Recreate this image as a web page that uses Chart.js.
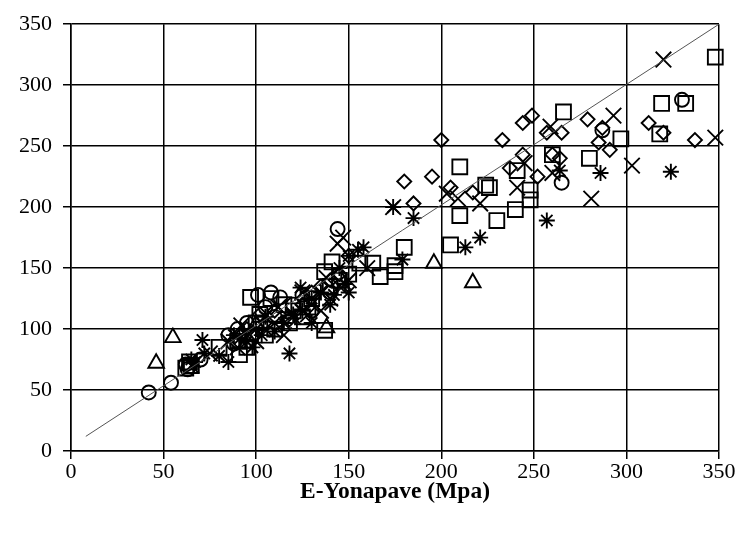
<!DOCTYPE html>
<html>
<head>
<meta charset="utf-8">
<script src="https://cdn.jsdelivr.net/npm/chart.js@4/dist/chart.umd.min.js"></script>
<style>
  html, body { margin: 0; padding: 0; background: #fff; }
  #wrap { width: 736px; height: 534px; }
</style>
</head>
<body>
<div id="wrap"><canvas id="scatterChart" width="736" height="534"></canvas></div>
<script>
// axis ticks
const tickValues = [0, 50, 100, 150, 200, 250, 300, 350];

// line of equality (drawn end points)
const fitX = [8, 350];
const fitY = [12, 350];

// diamonds
const diamondX = [200, 233, 244, 249, 257, 265, 180, 195, 185, 217, 244, 260, 237, 252, 205, 279, 312, 320, 337, 285, 291, 287, 264, 110, 125, 140, 95, 130, 150, 118, 102, 135, 145, 92];
const diamondY = [255, 255, 269, 275, 261, 261, 221, 225, 203, 212, 243, 243, 232, 225, 216, 272, 269, 261, 255, 253, 247, 265, 240, 115, 120, 140, 100, 130, 160, 108, 112, 135, 145, 95];

// squares
const squareX = [348, 319, 332, 318, 297, 280, 266, 210, 224, 210, 205, 230, 240, 248, 248, 241, 180, 175, 175, 167, 260, 226, 141, 137, 156, 163, 97, 137, 91, 90, 100, 110, 120, 130, 95, 105, 140, 145, 125, 80, 65, 115, 62, 64, 102, 128, 150, 108, 118];
const squareY = [323, 285, 285, 260, 256, 240, 278, 233, 218, 193, 169, 189, 198, 206, 214, 230, 167, 152, 147, 143, 243, 216, 155, 147, 154, 154, 126, 99, 79, 90, 105, 100, 115, 125, 85, 95, 135, 140, 110, 85, 70, 120, 68, 73, 112, 118, 145, 125, 105];

// triangles
const triangleX = [55, 46, 138, 196, 217, 100];
const triangleY = [93, 72, 101, 154, 138, 104];

// circles
const circleX = [42, 54, 144, 265, 287, 330, 101, 108, 62, 70, 85, 95, 110, 120, 130, 90, 140, 105, 113, 63, 88, 98, 125];
const circleY = [48, 56, 182, 220, 263, 288, 128, 130, 71, 75, 95, 105, 110, 120, 115, 100, 130, 118, 126, 67, 88, 96, 128];

// crosses (x)
const crossX = [320, 293, 348, 303, 281, 203, 209, 221, 260, 241, 144, 147, 174, 245, 259, 85, 95, 100, 110, 120, 130, 140, 150, 105, 125, 115, 135, 90, 75, 160, 145, 65, 92, 112, 128, 138];
const crossY = [321, 275, 257, 234, 207, 211, 207, 203, 228, 216, 170, 175, 200, 236, 266, 90, 95, 90, 105, 110, 120, 125, 140, 100, 130, 95, 115, 85, 80, 150, 135, 70, 103, 118, 112, 142];

// stars (asterisk)
const starX = [257, 221, 213, 185, 179, 324, 286, 174, 264, 118, 124, 71, 65, 72, 80, 88, 95, 100, 105, 110, 115, 125, 130, 135, 140, 150, 150, 155, 145, 85, 98, 130, 158, 67, 91, 103, 120, 142, 148];
const starY = [189, 175, 167, 191, 157, 229, 228, 200, 230, 80, 134, 91, 75, 80, 78, 95, 90, 100, 110, 98, 105, 115, 125, 130, 120, 130, 160, 165, 150, 73, 85, 105, 167, 73, 92, 95, 112, 128, 137];

function toPoints(xs, ys) {
  return xs.map((x, i) => ({ x: x, y: ys[i] }));
}

function markerSet(label, xs, ys, style, radius) {
  return {
    label: label,
    data: toPoints(xs, ys),
    pointStyle: style,
    pointRadius: radius,
    pointHoverRadius: radius,
    pointBorderWidth: 1.9,
    pointBorderColor: '#000',
    pointBackgroundColor: 'rgba(0,0,0,0)',
    borderColor: '#000',
    backgroundColor: 'rgba(0,0,0,0)',
    showLine: false,
    clip: false
  };
}

const serif = "'Liberation Serif', 'Times New Roman', serif";

const ctx = document.getElementById('scatterChart').getContext('2d');
new Chart(ctx, {
  type: 'scatter',
  data: {
    datasets: [
      {
        type: 'line',
        label: 'Equality',
        data: toPoints(fitX, fitY),
        borderColor: '#555',
        borderWidth: 1,
        pointRadius: 0,
        fill: false
      },
      markerSet('Diamond', diamondX, diamondY, 'rectRot', 7),
      markerSet('Square', squareX, squareY, 'rect', 10.5),
      markerSet('Triangle', triangleX, triangleY, 'triangle', 9),
      markerSet('Circle', circleX, circleY, 'circle', 7),
      markerSet('Cross', crossX, crossY, 'crossRot', 11),
      markerSet('Star', starX, starY, 'star', 8)
    ]
  },
  options: {
    responsive: false,
    animation: false,
    layout: { padding: { top: 24, right: 17, left: 0, bottom: 0 } },
    plugins: {
      legend: { display: false },
      tooltip: { enabled: false }
    },
    scales: {
      x: {
        type: 'linear',
        min: 0,
        max: 350,
        afterBuildTicks: scale => { scale.ticks = tickValues.map(v => ({ value: v })); },
        afterFit: scale => { scale.height = 83; },
        grid: { color: '#000', lineWidth: 1.5, tickLength: 8, drawTicks: true },
        border: { color: '#000', width: 1.5 },
        ticks: { color: '#000', padding: 0, font: { family: serif, size: 22 } },
        title: {
          display: true,
          text: 'E-Yonapave (Mpa)',
          color: '#000',
          padding: { top: 0, bottom: 28 },
          font: { family: serif, size: 23.5, weight: 'bold' }
        }
      },
      y: {
        type: 'linear',
        min: 0,
        max: 350,
        afterBuildTicks: scale => { scale.ticks = tickValues.map(v => ({ value: v })); },
        afterFit: scale => { scale.width = 71; },
        grid: { color: '#000', lineWidth: 1.5, tickLength: 8, drawTicks: true },
        border: { color: '#000', width: 1.5 },
        ticks: { color: '#000', padding: 11, font: { family: serif, size: 22 } }
      }
    }
  }
});
</script>
</body>
</html>
